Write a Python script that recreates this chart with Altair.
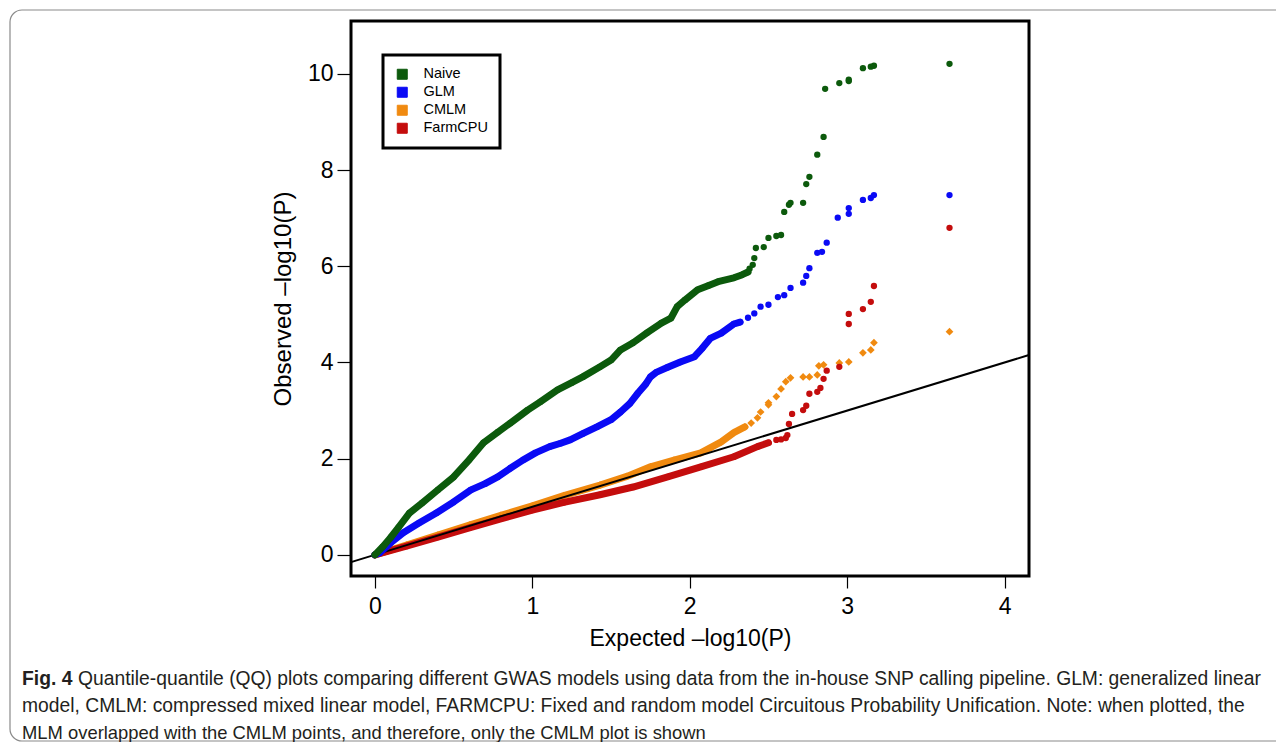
import altair as alt
import pandas as pd

SERIES = ["Naive", "GLM", "CMLM", "FarmCPU"]
COLORS = ["#0c5a0c", "#0a0af5", "#f08a10", "#c40d0d"]

# Dense (continuous-looking) part of each QQ trace
NAIVE_TRACE_X = [0, 0.05, 0.10, 0.15, 0.22, 0.30, 0.40, 0.50, 0.60, 0.69, 0.78, 0.86, 0.97, 1.05, 1.16, 1.25, 1.32, 1.43, 1.50, 1.56, 1.64, 1.73, 1.82, 1.88, 1.92, 1.97, 2.05, 2.12, 2.18, 2.28, 2.33, 2.37]
NAIVE_TRACE_Y = [0, 0.17, 0.36, 0.57, 0.87, 1.08, 1.35, 1.62, 1.98, 2.33, 2.55, 2.74, 3.01, 3.18, 3.43, 3.58, 3.70, 3.91, 4.05, 4.26, 4.41, 4.62, 4.82, 4.92, 5.16, 5.30, 5.51, 5.60, 5.68, 5.76, 5.82, 5.88]
GLM_TRACE_X = [0, 0.03, 0.10, 0.18, 0.28, 0.39, 0.50, 0.61, 0.70, 0.78, 0.86, 0.94, 1.02, 1.11, 1.18, 1.24, 1.32, 1.41, 1.50, 1.56, 1.62, 1.67, 1.72, 1.75, 1.79, 1.86, 1.94, 2.03, 2.08, 2.13, 2.20, 2.28, 2.32]
GLM_TRACE_Y = [0, 0.04, 0.25, 0.46, 0.66, 0.87, 1.10, 1.35, 1.48, 1.62, 1.80, 1.97, 2.12, 2.25, 2.32, 2.39, 2.52, 2.66, 2.81, 2.97, 3.15, 3.36, 3.55, 3.70, 3.80, 3.90, 4.01, 4.12, 4.30, 4.50, 4.61, 4.80, 4.84]
CMLM_TRACE_X = [0, 0.20, 0.40, 0.60, 0.80, 1.00, 1.20, 1.43, 1.60, 1.75, 1.90, 2.07, 2.20, 2.28, 2.35]
CMLM_TRACE_Y = [0, 0.20, 0.41, 0.62, 0.82, 1.02, 1.23, 1.45, 1.63, 1.83, 1.97, 2.12, 2.35, 2.54, 2.66]
FARM_TRACE_X = [0, 0.20, 0.40, 0.60, 0.80, 1.00, 1.20, 1.43, 1.64, 1.86, 2.07, 2.28, 2.43, 2.50]
FARM_TRACE_Y = [0, 0.18, 0.37, 0.56, 0.75, 0.93, 1.09, 1.25, 1.41, 1.62, 1.83, 2.04, 2.25, 2.33]

# Sparse tail points
NAIVE_TAIL_X = [2.38, 2.40, 2.41, 2.42, 2.47, 2.50, 2.55, 2.58, 2.60, 2.63, 2.64, 2.72, 2.74, 2.76, 2.81, 2.85, 2.86, 2.95, 3.01, 3.01, 3.10, 3.15, 3.17, 3.65]
NAIVE_TAIL_Y = [5.95, 6.03, 6.17, 6.38, 6.40, 6.59, 6.63, 6.65, 7.13, 7.28, 7.32, 7.32, 7.71, 7.86, 8.32, 8.69, 9.69, 9.81, 9.85, 9.88, 10.12, 10.15, 10.17, 10.21]
GLM_TAIL_X = [2.37, 2.41, 2.45, 2.50, 2.56, 2.60, 2.64, 2.72, 2.74, 2.76, 2.81, 2.84, 2.87, 2.94, 3.01, 3.01, 3.10, 3.15, 3.17, 3.65]
GLM_TAIL_Y = [4.93, 5.02, 5.16, 5.20, 5.36, 5.40, 5.55, 5.66, 5.80, 5.96, 6.28, 6.30, 6.49, 7.01, 7.09, 7.21, 7.38, 7.42, 7.48, 7.48]
CMLM_TAIL_X = [2.39, 2.43, 2.45, 2.50, 2.50, 2.55, 2.58, 2.61, 2.64, 2.72, 2.76, 2.81, 2.82, 2.85, 2.95, 3.01, 3.10, 3.15, 3.17, 3.65]
CMLM_TAIL_Y = [2.74, 2.85, 2.97, 3.12, 3.16, 3.29, 3.45, 3.60, 3.68, 3.70, 3.70, 3.74, 3.93, 3.95, 3.99, 4.01, 4.20, 4.26, 4.41, 4.64]
FARM_TAIL_X = [2.55, 2.58, 2.61, 2.62, 2.63, 2.65, 2.72, 2.74, 2.76, 2.81, 2.83, 2.85, 2.87, 2.95, 3.01, 3.01, 3.10, 3.15, 3.17, 3.65]
FARM_TAIL_Y = [2.39, 2.40, 2.43, 2.49, 2.72, 2.93, 3.01, 3.10, 3.35, 3.39, 3.47, 3.66, 3.83, 3.91, 4.80, 5.01, 5.11, 5.26, 5.59, 6.80]

DIAG = [-0.152, 4.155]
X_TICKS = [0, 1, 2, 3, 4]
Y_TICKS = [0, 2, 4, 6, 8, 10]

CAPTION_BOLD = "Fig. 4"
CAPTION_LINES = [
    "Quantile-quantile (QQ) plots comparing different GWAS models using data from the in-house SNP calling pipeline. GLM: generalized linear",
    "model, CMLM: compressed mixed linear model, FARMCPU: Fixed and random model Circuitous Probability Unification. Note: when plotted, the",
    "MLM overlapped with the CMLM points, and therefore, only the CMLM plot is shown",
]

FONT = "Liberation Sans, Arial, Helvetica"


def frame(name, xs, ys):
    return pd.DataFrame({"series": name, "x": xs, "y": ys})


trace = pd.concat([
    frame("Naive", NAIVE_TRACE_X, NAIVE_TRACE_Y),
    frame("GLM", GLM_TRACE_X, GLM_TRACE_Y),
    frame("CMLM", CMLM_TRACE_X, CMLM_TRACE_Y),
    frame("FarmCPU", FARM_TRACE_X, FARM_TRACE_Y),
], ignore_index=True)
tail = pd.concat([
    frame("Naive", NAIVE_TAIL_X, NAIVE_TAIL_Y),
    frame("GLM", GLM_TAIL_X, GLM_TAIL_Y),
    frame("CMLM", CMLM_TAIL_X, CMLM_TAIL_Y),
    frame("FarmCPU", FARM_TAIL_X, FARM_TAIL_Y),
], ignore_index=True)
points = pd.concat([trace, tail], ignore_index=True)
diag = pd.DataFrame({"x": DIAG, "y": DIAG})
dummy = pd.DataFrame({"k": [0]})

xscale = alt.Scale(domain=[-0.152, 4.155], nice=False, zero=False)
yscale = alt.Scale(domain=[-0.44, 11.10], nice=False, zero=False)

xaxis = alt.Axis(values=X_TICKS, domain=False, grid=False, tickSize=12, tickColor="black", tickWidth=1.2,
                 labelFontSize=23, labelFont=FONT, labelColor="black", labelPadding=7, labelFlush=False,
                 title="Expected \u2013log10(P)", titleFont=FONT, titleFontSize=23, titleFontWeight="normal",
                 titleColor="black", titlePadding=9)
yaxis = alt.Axis(values=Y_TICKS, domain=False, grid=False, tickSize=14, tickColor="black", tickWidth=1.2,
                 labelFontSize=23, labelFont=FONT, labelColor="black", labelPadding=4, labelFlush=False,
                 title="Observed \u2013log10(P)", titleFont=FONT, titleFontSize=24, titleFontWeight="normal",
                 titleColor="black", titlePadding=12)

X = alt.X("x:Q", scale=xscale, axis=xaxis)
Y = alt.Y("y:Q", scale=yscale, axis=yaxis)
LEGEND = alt.Legend(title=None, orient="none", legendX=32, legendY=34,
                    symbolType="square", symbolSize=100, symbolStrokeColor="#333333",
                    symbolStrokeWidth=1, symbolOpacity=1, labelFont=FONT, labelFontSize=14.5,
                    labelColor="black", labelOffset=14, rowPadding=2, padding=12,
                    strokeColor="black", fillColor="white")
COLOR = alt.Color("series:N", scale=alt.Scale(domain=SERIES, range=COLORS), legend=LEGEND)


def series_layers(name, shape):
    line = alt.Chart(trace).transform_filter(alt.datum.series == name).mark_line(
        strokeWidth=7, strokeCap="round", strokeJoin="round").encode(
        x=X, y=Y, color=COLOR, order="x:Q")
    pts = alt.Chart(points).transform_filter(alt.datum.series == name).mark_point(
        shape=shape, filled=True, size=60 if shape == "diamond" else 40, opacity=1).encode(
        x=X, y=Y, color=COLOR)
    return [line, pts]


diag_layer = alt.Chart(diag).mark_line(color="black", strokeWidth=2).encode(x=X, y=Y)

border = alt.Chart(dummy).mark_rect(fillOpacity=0, stroke="#8a8a8a", strokeWidth=1.2, cornerRadius=12).encode(
    x=alt.value(-341), x2=alt.value(940), y=alt.value(-11), y2=alt.value(720))

cap_style = dict(align="left", baseline="middle", font=FONT, color="#231f20")
cap0 = alt.Chart(dummy).mark_text(text=CAPTION_BOLD, fontWeight="bold", fontSize=19.3, **cap_style).encode(
    x=alt.value(-329), y=alt.value(658))
cap1 = alt.Chart(dummy).mark_text(text=CAPTION_LINES[0], fontSize=19.3, **cap_style).encode(
    x=alt.value(-273), y=alt.value(658))
cap2 = alt.Chart(dummy).mark_text(text=CAPTION_LINES[1], fontSize=19.3, **cap_style).encode(
    x=alt.value(-329), y=alt.value(685))
cap3 = alt.Chart(dummy).mark_text(text=CAPTION_LINES[2], fontSize=18.4, **cap_style).encode(
    x=alt.value(-329), y=alt.value(712))

layers = (
    [border]
    + series_layers("CMLM", "diamond")
    + series_layers("FarmCPU", "circle")
    + [diag_layer]
    + series_layers("GLM", "circle")
    + series_layers("Naive", "circle")
    + [cap0, cap1, cap2, cap3]
)

chart = alt.layer(*layers).properties(
    width=678, height=555,
    autosize=alt.AutoSizeParams(type="none"),
    padding={"left": 343, "top": 13, "right": 247, "bottom": 166},
    background="white",
).configure_view(stroke="black", strokeWidth=3).configure_legend(strokeWidth=3)

chart.save("out.html", embed_options={"renderer": "svg", "actions": False})
